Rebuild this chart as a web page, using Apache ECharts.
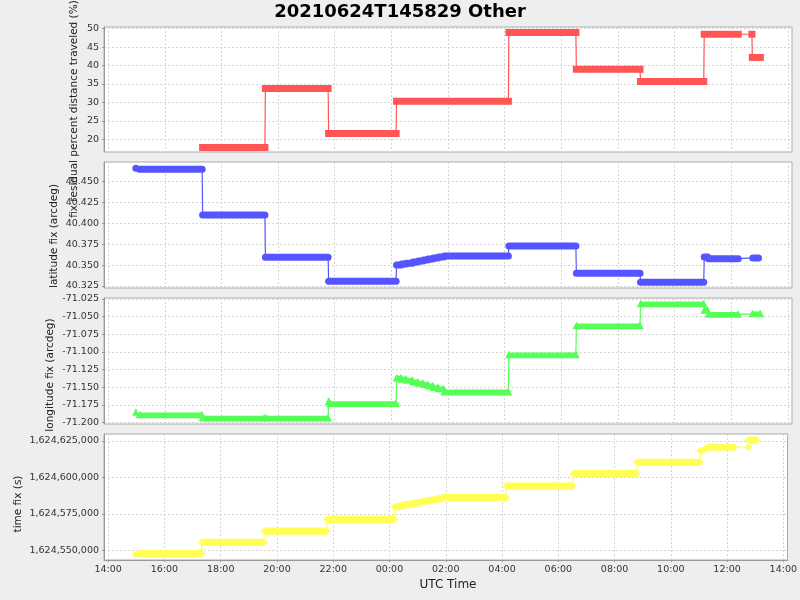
<!DOCTYPE html>
<html>
<head>
<meta charset="utf-8">
<script src="https://cdn.jsdelivr.net/npm/echarts@6/dist/echarts.min.js"></script>
<style>
html,body{margin:0;padding:0;background:#eeeeee;}
#c{width:800px;height:600px;}
</style>
</head>
<body>
<div id="c"></div>
<script>
// ---------------- data ----------------
const titleText = '20210624T145829 Other';
const xAxisName = 'UTC Time';
const yNames = ['fix residual percent distance traveled (%)', 'latitude fix (arcdeg)', 'longitude fix (arcdeg)', 'time fix (s)'];

// x tick labels (UTC)
const xTicks = ['2021-06-24T14:00:00Z','2021-06-24T16:00:00Z','2021-06-24T18:00:00Z','2021-06-24T20:00:00Z',
  '2021-06-24T22:00:00Z','2021-06-25T00:00:00Z','2021-06-25T02:00:00Z','2021-06-25T04:00:00Z',
  '2021-06-25T06:00:00Z','2021-06-25T08:00:00Z','2021-06-25T10:00:00Z','2021-06-25T12:00:00Z','2021-06-25T14:00:00Z'];
const xRange = ['2021-06-24T13:51:00Z', '2021-06-25T14:09:00Z'];

// y tick labels
const pctTicks = [20, 25, 30, 35, 40, 45, 50];
const latTicks = [40.325, 40.350, 40.375, 40.400, 40.425, 40.450];
const lonTicks = [-71.200, -71.175, -71.150, -71.125, -71.100, -71.075, -71.050, -71.025];
const timeTicks = [1624550000, 1624575000, 1624600000, 1624625000];

// segments of constant value: [start UTC hh:mm, end UTC hh:mm, value]  (hours >= 14 are 24 June, others 25 June)
const pctSegments = [
  ['17:20','19:32',17.8],
  ['19:33','21:46',33.8],
  ['21:47','00:10',21.6],
  ['00:11','04:08',30.3],
  ['04:09','06:31',49.0],
  ['06:32','08:47',39.0],
  ['08:48','11:02',35.7],
  ['11:03','12:15',48.5],
  ['12:44','12:44',48.5],
  ['12:45','13:02',42.2]
];
const latSegments = [
  ['14:58:29','14:58:29',40.4662],
  ['15:06','17:19',40.4650],
  ['17:20','19:32',40.4100],
  ['19:33','21:46',40.3594],
  ['21:47','00:10',40.3307],
  ['00:11','00:21',40.3502],
  ['00:22','00:31',40.3513],
  ['00:32','00:45',40.3524],
  ['00:46','00:56',40.3537],
  ['00:57','01:07',40.3551],
  ['01:08','01:17',40.3561],
  ['01:18','01:28',40.3574],
  ['01:29','01:39',40.3586],
  ['01:40','01:51',40.3597],
  ['01:52','04:08',40.3610],
  ['04:09','06:31',40.3729],
  ['06:32','08:47',40.3402],
  ['08:48','11:02',40.3295],
  ['11:03','11:10',40.3597],
  ['11:12','12:15',40.3578],
  ['12:46','12:58',40.3586]
];
const lonSegments = [
  ['14:58:29','14:58:29',-71.1855],
  ['15:06','17:19',-71.1890],
  ['17:20','19:31',-71.1935],
  ['19:35','21:46',-71.1935],
  ['21:47','21:47',-71.1700],
  ['21:50','00:10',-71.1730],
  ['00:11','00:21',-71.1368],
  ['00:22','00:31',-71.1385],
  ['00:32','00:45',-71.1402],
  ['00:46','00:56',-71.1425],
  ['00:57','01:07',-71.1443],
  ['01:08','01:17',-71.1462],
  ['01:18','01:28',-71.1480],
  ['01:29','01:39',-71.1503],
  ['01:40','01:51',-71.1522],
  ['01:52','04:08',-71.1566],
  ['04:09','06:31',-71.1040],
  ['06:32','08:47',-71.0630],
  ['08:48','11:02',-71.0320],
  ['11:03','11:10',-71.0410],
  ['11:12','12:15',-71.0468],
  ['12:45','13:02',-71.0460]
];
const timeSegments = [
  ['14:58:29','14:58:29',1624547000],
  ['15:06','17:19',1624547700],
  ['17:20','19:32',1624555400],
  ['19:33','21:46',1624563100],
  ['21:47','00:10',1624571200],
  ['00:11','00:21',1624579900],
  ['00:22','00:31',1624580600],
  ['00:32','00:45',1624581300],
  ['00:46','00:56',1624582000],
  ['00:57','01:07',1624582700],
  ['01:08','01:17',1624583350],
  ['01:18','01:28',1624584000],
  ['01:29','01:39',1624584700],
  ['01:40','01:51',1624585350],
  ['01:52','04:08',1624586100],
  ['04:09','06:31',1624594100],
  ['06:32','08:47',1624602600],
  ['08:48','11:02',1624610400],
  ['11:03','11:06',1624618350],
  ['11:12','11:12',1624619300],
  ['11:18','12:15',1624620700],
  ['12:45','12:45',1624620700],
  ['12:46','13:03',1624625600]
];

// ---------------- chart ----------------
const FONT = 'DejaVu Sans';
function ts(s) {
  const p = s.split(':').map(Number);
  return Date.UTC(2021, 5, p[0] >= 14 ? 24 : 25, p[0], p[1], p[2] || 0);
}
const pad = n => (n < 10 ? '0' : '') + n;
const fmtTime = v => { const d = new Date(v); return pad(d.getUTCHours()) + ':' + pad(d.getUTCMinutes()); };
const fmtComma = v => String(Math.round(v)).replace(/\B(?=(\d{3})+(?!\d))/g, ',');

const xTickValues = xTicks.map(s => Date.parse(s));
const xMin = Date.parse(xRange[0]), xMax = Date.parse(xRange[1]);

const panels = [
  { segs: pctSegments, ticks: pctTicks, min: 16.555, max: 50.461, color: '#FF5555', shape: 'rect', fmt: v => String(v),
    grid: { top: 27, height: 125 }, name: { x: 74, y: 109 } },
  { segs: latSegments, ticks: latTicks, min: 40.3226, max: 40.47361, color: '#5555FF', shape: 'circle', fmt: v => v.toFixed(3),
    grid: { top: 162, height: 126 }, name: { x: 54.5, y: 236 } },
  { segs: lonSegments, ticks: lonTicks, min: -71.20184, max: -71.02359, color: '#55FF55', shape: 'triangle', fmt: v => v.toFixed(3),
    grid: { top: 298, height: 126 }, name: { x: 50, y: 375 } },
  { segs: timeSegments, ticks: timeTicks, min: 1624543344, max: 1624629803, color: '#FFFF55', shape: 'diamond', fmt: fmtComma,
    grid: { top: 434, height: 126 }, name: { x: 18, y: 504 } }
];

function makeRenderer(shape, color) {
  return function (params, api) {
    const a = api.coord([api.value(0), api.value(2)]);
    const b = api.coord([api.value(1), api.value(2)]);
    const x1 = a[0], x2 = b[0], y = a[1];
    let el;
    if (shape === 'rect') {
      el = { type: 'rect', shape: { x: x1 - 3.5, y: y - 3.5, width: x2 - x1 + 7, height: 7 } };
    } else if (shape === 'circle') {
      el = { type: 'rect', shape: { x: x1 - 3.5, y: y - 3.5, width: x2 - x1 + 7, height: 7, r: 3.5 } };
    } else if (shape === 'triangle') {
      el = { type: 'polygon', shape: { points: [[x1 - 3.8, y + 3.4], [x1, y - 4], [x1 + 1.5, y - 2.4], [x2 - 1.5, y - 2.4], [x2, y - 4], [x2 + 3.8, y + 3.4]] } };
    } else {
      el = { type: 'polygon', shape: { points: [[x1 - 4, y], [x1, y - 3.6], [x2, y - 3.6], [x2 + 4, y], [x2, y + 3.6], [x1, y + 3.6]] } };
    }
    el.style = { fill: color };
    return el;
  };
}

const grid = [], xAxis = [], yAxis = [], series = [], graphic = [];
const splitLineStyle = { color: '#d4d4d4', type: [2, 2], width: 1 };
panels.forEach((p, i) => {
  grid.push({ left: 104, width: 688, top: p.grid.top, height: p.grid.height, show: true,
    backgroundColor: '#ffffff', borderColor: '#ababab', borderWidth: 1 });
  const last = i === panels.length - 1;
  xAxis.push({
    type: 'value', gridIndex: i, min: xMin, max: xMax,
    axisLine: { show: last, onZero: false, lineStyle: { color: '#999999' } },
    axisTick: { show: last, length: 2, customValues: xTickValues, lineStyle: { color: '#999999' } },
    axisLabel: { show: last, customValues: xTickValues, formatter: fmtTime, fontSize: 9.5, fontFamily: FONT, color: '#333', margin: 5 },
    splitLine: { show: true, lineStyle: splitLineStyle }
  });
  yAxis.push({
    type: 'value', gridIndex: i, min: p.min, max: p.max,
    axisLine: { show: true, onZero: false, lineStyle: { color: '#999999' } },
    axisTick: { show: true, length: 2, customValues: p.ticks, lineStyle: { color: '#999999' } },
    axisLabel: { customValues: p.ticks, formatter: p.fmt, fontSize: 9.5, fontFamily: FONT, color: '#333', margin: 5 },
    splitLine: { show: true, lineStyle: splitLineStyle }
  });
  const pts = [];
  p.segs.forEach(s => {
    pts.push([ts(s[0]), s[2]]);
    if (s[1] !== s[0]) pts.push([ts(s[1]), s[2]]);
  });
  series.push({ type: 'line', xAxisIndex: i, yAxisIndex: i, data: pts, symbol: 'none', showSymbol: false,
    lineStyle: { width: 1.2, color: p.color }, z: 2, silent: true });
  series.push({ type: 'custom', xAxisIndex: i, yAxisIndex: i, data: p.segs.map(s => [ts(s[0]), ts(s[1]), s[2]]),
    encode: { x: [0, 1], y: 2 }, renderItem: makeRenderer(p.shape, p.color), z: 3, silent: true });
  graphic.push({ type: 'text', x: p.name.x, y: p.name.y, rotation: Math.PI / 2, silent: true,
    style: { text: yNames[i], font: '10.5px "' + FONT + '"', fill: '#222', textAlign: 'center', textVerticalAlign: 'middle', align: 'center', verticalAlign: 'middle' } });
});
graphic.push({ type: 'text', x: 448, y: 585, silent: true,
  style: { text: xAxisName, font: '12px "' + FONT + '"', fill: '#222', textAlign: 'center', textVerticalAlign: 'middle', align: 'center', verticalAlign: 'middle' } });

const chart = echarts.init(document.getElementById('c'), null, { renderer: 'canvas' });
chart.setOption({
  animation: false,
  backgroundColor: '#eeeeee',
  title: { text: titleText, left: 'center', top: 3, padding: 0, textStyle: { fontSize: 18, fontWeight: 'bold', fontFamily: FONT, color: '#000' } },
  grid, xAxis, yAxis, series, graphic
});
</script>
</body>
</html>
